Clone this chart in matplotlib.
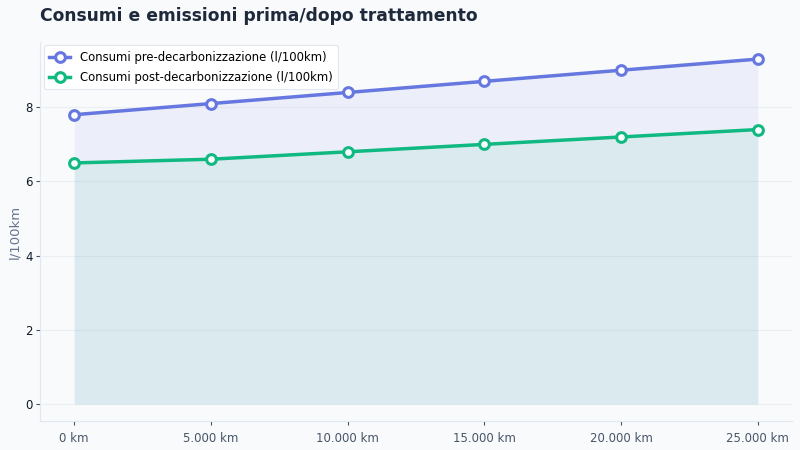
import matplotlib
matplotlib.use("Agg")
import matplotlib.pyplot as plt
from matplotlib.ticker import FuncFormatter

km = [0, 5000, 10000, 15000, 20000, 25000]
pre = [7.8, 8.1, 8.4, 8.7, 9.0, 9.3]
post = [6.5, 6.6, 6.8, 7.0, 7.2, 7.4]
labels = ["Consumi pre-decarbonizzazione (l/100km)", "Consumi post-decarbonizzazione (l/100km)"]
title = "Consumi e emissioni prima/dopo trattamento"

bg = "#f8fafc"
c_pre = "#6678e0"
c_post = "#10b981"

fig = plt.figure(figsize=(8, 4.5), dpi=100, facecolor=bg)
ax = fig.add_axes([0.05, 0.064, 0.94, 0.843], facecolor=bg)

ax.fill_between(km, 0, pre, color=c_pre, alpha=0.08, linewidth=0)
ax.fill_between(km, 0, post, color=c_post, alpha=0.08, linewidth=0)
ax.plot(km, pre, color=c_pre, lw=2.5, marker="o", ms=7, mfc="white", mec=c_pre, mew=2.2, label=labels[0])
ax.plot(km, post, color=c_post, lw=2.5, marker="o", ms=7, mfc="white", mec=c_post, mew=2.2, label=labels[1])

ax.set_xticks(km)
ax.xaxis.set_major_formatter(FuncFormatter(lambda v, p: f"{int(v):,} km".replace(",", ".")))
ax.set_yticks([0, 2, 4, 6, 8])
ax.grid(axis="y", color="#e2e8f0", lw=0.8, alpha=0.6)
ax.set_axisbelow(True)
for s in ["top", "right"]:
    ax.spines[s].set_visible(False)
for s in ["left", "bottom"]:
    ax.spines[s].set_color("#e2e8f0")
ax.tick_params(axis="x", colors="#475569", labelsize=8.5, length=3, pad=5)
ax.tick_params(axis="y", colors="#475569", labelcolor="#111827", labelsize=8.5, length=3, pad=2)
ax.set_ylabel("l/100km", color="#64748b", fontsize=9.5, labelpad=3)

leg = ax.legend(loc="upper left", fontsize=8.4, frameon=True, facecolor="white", edgecolor="#e2e8f0",
                framealpha=1, handlelength=1.8, borderaxespad=0.3, labelspacing=0.55, borderpad=0.5)
leg.get_frame().set_linewidth(0.8)

fig.text(0.05, 0.964, title, fontsize=12.3, fontweight="bold", color="#1e293b", ha="left", va="center")

fig.savefig("out.png", dpi=100, facecolor=bg)
